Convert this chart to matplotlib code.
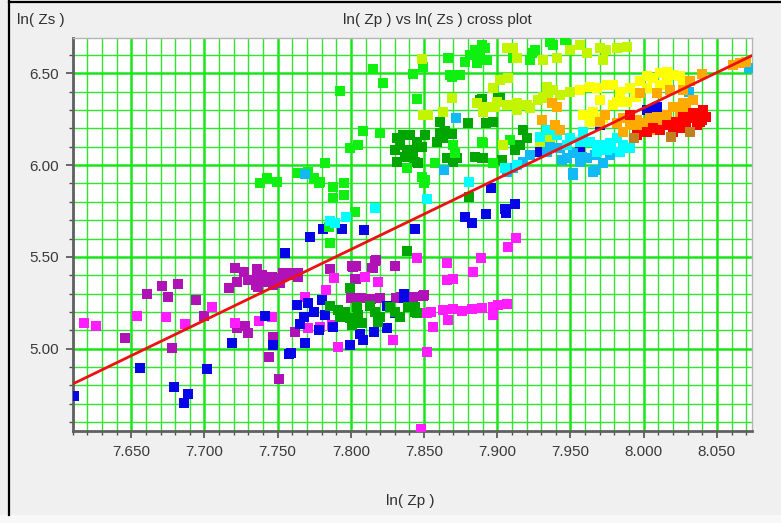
import matplotlib
matplotlib.use("Agg")
import matplotlib.pyplot as plt
from matplotlib.ticker import MultipleLocator, FormatStrFormatter
from matplotlib.lines import Line2D
from matplotlib.patches import Rectangle

plt.rcParams["font.family"] = ["Liberation Sans", "DejaVu Sans"]

# scatter points, one pair of lists per colour class
blue_x = [7.611, 7.656, 7.679, 7.689, 7.686, 7.702, 7.719, 7.741, 7.747, 7.755, 7.758,
          7.772, 7.781, 7.794, 7.809, 7.844, 7.878, 7.883, 7.892, 7.905, 7.906, 7.912,
          7.896, 7.763, 7.771, 7.780, 7.7745, 7.7677, 7.7654, 7.7824, 7.788, 7.769,
          7.7592, 7.7995, 7.8063, 7.8086, 7.8159, 7.8245, 7.8245, 7.8302, 7.7785,
          7.836, 7.836, 8.002, 8.0088, 7.970, 7.929, 7.9565]
blue_y = [4.742, 4.897, 4.793, 4.752, 4.706, 4.889, 5.033, 5.178, 5.020, 5.523, 4.971,
          5.607, 5.652, 5.652, 5.646, 5.652, 5.719, 5.686, 5.732, 5.759, 5.737, 5.786,
          5.874, 5.238, 5.247, 5.265, 5.200, 5.174, 5.135, 5.183, 5.120, 5.033,
          4.975, 5.020, 5.080, 5.047, 5.093, 5.111, 5.233, 5.193, 5.102,
          5.300, 5.275, 6.300, 6.318, 6.218, 6.073, 6.073]

magenta_x = [7.618, 7.626, 7.654, 7.674, 7.687, 7.705, 7.721, 7.737, 7.746, 7.769,
             7.7886, 7.783, 7.8188, 7.8097, 7.8454, 7.889, 7.8655, 7.8837, 7.8655, 7.870,
             7.9075, 7.9126, 7.852, 7.855, 7.863, 7.870, 7.8757, 7.8825, 7.8894, 7.8973,
             7.9007, 7.9065, 7.8666, 7.8564, 7.8973, 7.829, 7.852, 7.7915, 7.771, 7.779,
             7.787, 7.8478]
magenta_y = [5.142, 5.125, 5.178, 5.171, 5.133, 5.229, 5.142, 5.151, 5.171, 5.283,
             5.387, 5.320, 5.365, 5.392, 5.492, 5.492, 5.465, 5.419, 5.374, 5.380,
             5.556, 5.601, 5.193, 5.200, 5.210, 5.215, 5.205, 5.215, 5.223, 5.229,
             5.238, 5.243, 5.156, 5.120, 5.183, 5.047, 4.984, 5.011, 5.111, 5.120,
             5.129, 4.561]

purple_x = [7.646, 7.661, 7.671, 7.675, 7.682, 7.678, 7.694, 7.700, 7.717, 7.721,
            7.722, 7.727, 7.730, 7.736, 7.735, 7.722, 7.728, 7.730, 7.747, 7.744, 7.751,
            7.7358, 7.7392, 7.7426, 7.746, 7.7495, 7.754, 7.7585, 7.7642, 7.7369, 7.7471,
            7.7517, 7.7538, 7.7586, 7.764,
            7.7855, 7.8006, 7.8036, 7.8036, 7.8097, 7.8154, 7.8172, 7.830, 7.8166, 7.8143,
            7.8029, 7.8017, 7.850, 7.8427, 7.762,
            7.800, 7.807, 7.8135, 7.820, 7.8305, 7.8345, 7.841, 7.8496]
purple_y = [5.057, 5.300, 5.343, 5.280, 5.350, 5.005, 5.265, 5.180, 5.332, 5.440,
            5.365, 5.416, 5.374, 5.432, 5.347, 5.111, 5.124, 5.087, 5.065, 4.956, 4.837,
            5.383, 5.401, 5.365, 5.392, 5.383, 5.401, 5.401, 5.410, 5.338, 5.347,
            5.356, 5.410, 5.410, 5.392,
            5.432, 5.450, 5.450, 5.380, 5.390, 5.440, 5.483, 5.450, 5.478, 5.438,
            5.378, 5.447, 5.292, 5.283, 5.093,
            5.275, 5.275, 5.270, 5.278, 5.275, 5.280, 5.272, 5.285]

dkgreen_x = [7.7995, 7.838, 7.881,
             7.7858, 7.7915, 7.796, 7.7995, 7.804, 7.8052, 7.8075, 7.8131, 7.8166, 7.820,
             7.8268, 7.8302, 7.8336, 7.8393, 7.8439, 7.8006, 7.8188, 7.7926, 7.845, 7.844,
             7.8313, 7.8359, 7.8404, 7.845, 7.8507, 7.830, 7.8336, 7.8382, 7.8427, 7.8484,
             7.8313, 7.837, 7.8439, 7.8461, 7.861, 7.8643, 7.8689, 7.8586, 7.8632, 7.8655,
             7.8723, 7.870, 7.8848, 7.8905, 7.8609, 7.8802, 7.8894, 7.9007, 7.9178, 7.9201,
             7.9155, 7.9121, 7.903, 7.8973, 7.902, 7.8883, 7.8894, 7.8925]
dkgreen_y = [5.329, 5.532, 5.825,
             5.233, 5.211, 5.200, 5.166, 5.229, 5.183, 5.138, 5.233, 5.200, 5.174,
             5.229, 5.200, 5.174, 5.229, 5.200, 5.129, 5.147, 5.174, 5.193, 5.229,
             6.146, 6.164, 6.164, 6.127, 6.164, 6.082, 6.109, 6.082, 6.073, 6.100,
             6.018, 6.046, 6.018, 6.010, 6.177, 6.186, 6.168, 6.127, 6.146, 6.037,
             6.037, 6.018, 6.046, 6.037, 6.236, 6.227, 6.360, 6.364, 6.191, 6.146,
             6.109, 6.082, 6.028, 6.236, 6.364, 6.355, 6.037, 6.227]

green_x = [7.7785, 7.788, 7.795, 7.795, 7.788, 7.803, 7.850, 7.786, 7.785, 7.7927,
           7.8154, 7.8222, 7.8427, 7.8495, 7.8666, 7.869, 7.8746, 7.845, 7.8086, 7.820,
           7.870, 7.871, 7.8894, 7.8973, 7.8575, 7.8507, 7.8382, 7.8052, 7.7995, 7.7824,
           7.7642, 7.771, 7.7745, 7.779, 7.738, 7.7426, 7.7495, 7.8484,
           7.878, 7.8814, 7.8848, 7.8882, 7.8916, 7.8928, 7.886, 7.8894, 7.911, 7.9235,
           7.9257, 7.9223, 7.936, 7.9383, 7.9463, 7.9087, 7.8905, 7.8677]
green_y = [5.904, 5.880, 5.900, 5.835, 5.820, 5.746, 5.904, 5.574, 5.664, 6.404,
           6.522, 6.449, 6.494, 6.536, 6.582, 6.480, 6.490, 6.360, 6.187, 6.172,
           6.109, 6.064, 6.127, 6.010, 6.013, 5.919, 5.983, 6.109, 6.091, 6.010,
           5.955, 5.964, 5.928, 5.910, 5.900, 5.928, 5.910, 5.937,
           6.563, 6.600, 6.627, 6.590, 6.636, 6.573, 6.555, 6.654, 6.580, 6.609,
           6.627, 6.573, 6.672, 6.654, 6.680, 6.136, 6.118, 6.490]

cyan_x = [7.8166, 7.852, 7.881, 7.786, 7.789, 7.797, 7.9633, 7.970, 7.977, 7.9815,
          7.9861, 7.9747, 7.9679, 7.9838, 7.9565, 7.9497, 7.9588, 7.9406, 7.9906, 7.9338,
          7.929, 7.9053, 7.9133, 7.9475, 7.978]
cyan_y = [5.768, 5.815, 5.910, 5.697, 5.683, 5.719, 6.127, 6.109, 6.118, 6.146,
          6.109, 6.082, 6.073, 6.073, 6.127, 6.146, 6.182, 6.164, 6.091, 6.191,
          6.155, 5.983, 6.000, 6.110, 6.095]

sky_x = [7.7688, 7.872, 7.8636, 8.072, 8.031, 7.9474, 7.952, 7.9565, 7.961, 7.9667,
         7.9724, 7.977, 7.952, 7.9667, 7.9428, 7.936, 7.9338, 7.911, 7.9178, 7.9223,
         7.9065, 7.952, 7.9656, 7.958, 7.944]
sky_y = [5.950, 6.258, 5.973, 6.527, 6.397, 6.037, 6.064, 6.018, 6.037, 6.055,
         6.010, 6.055, 5.955, 5.973, 6.091, 6.100, 6.073, 5.983, 6.018, 6.055,
         5.964, 5.946, 5.964, 6.045, 6.030]

ygreen_x = [7.8484, 7.869, 7.8495, 7.853, 7.863, 7.886, 7.8905, 7.8973, 7.8985, 7.9065,
            7.911, 7.9133, 7.9315, 7.9406, 7.950, 7.9565, 7.961, 7.970, 7.9746, 7.9815,
            7.9883, 7.9723, 7.902, 7.9075, 7.9338, 7.9383, 7.9315,
            7.8928, 7.8997, 7.9065, 7.9133, 7.9201, 7.928, 7.9349, 7.9428, 7.9497,
            7.9133, 7.9223, 7.8905, 7.9042, 7.936, 7.929]
ygreen_y = [6.578, 6.364, 6.273, 6.273, 6.291, 6.337, 6.318, 6.418, 6.318, 6.636,
            6.636, 6.582, 6.573, 6.582, 6.627, 6.654, 6.609, 6.636, 6.627, 6.636,
            6.645, 6.573, 6.464, 6.473, 6.427, 6.409, 6.373,
            6.318, 6.345, 6.327, 6.336, 6.327, 6.355, 6.364, 6.382, 6.400,
            6.300, 6.309, 6.291, 6.109, 6.146, 6.127]

yellow_x = [7.9838, 7.9906, 7.9974, 8.002, 8.0065, 8.011, 8.0156, 8.0201, 8.0247, 8.027,
            8.011, 7.995, 7.9883, 8.002, 8.0156, 7.9588, 7.9656, 7.9724, 7.9633, 7.9792,
            7.970, 7.9815, 7.9565, 7.9633, 7.9679, 7.9747, 7.9792]
yellow_y = [6.400, 6.418, 6.455, 6.482, 6.473, 6.500, 6.509, 6.491, 6.482, 6.455,
            6.436, 6.373, 6.345, 6.418, 6.455, 6.273, 6.291, 6.255, 6.236, 6.327,
            6.355, 6.345, 6.409, 6.427, 6.418, 6.436, 6.436]

orange_x = [7.9372, 7.9406, 7.9303, 7.9394, 7.9428, 7.970, 7.9735,
            7.9815, 7.9861, 7.9906, 7.9951, 7.9997, 8.0042, 8.0088, 8.011, 8.0156, 7.9861,
            7.9951, 8.002, 8.0065, 8.0156, 8.0247, 8.0224, 8.0292, 7.9974,
            8.0316, 8.0395, 7.9974, 8.0088, 8.0179, 8.027, 8.0338, 8.027, 8.0201,
            8.0612, 8.0657, 8.0702]
orange_y = [6.336, 6.318, 6.246, 6.218, 6.191, 6.236, 6.273,
            6.228, 6.255, 6.218, 6.246, 6.228, 6.255, 6.264, 6.218, 6.236, 6.182,
            6.173, 6.182, 6.191, 6.273, 6.291, 6.227, 6.300, 6.218,
            6.455, 6.495, 6.391, 6.391, 6.409, 6.409, 6.355, 6.336, 6.318,
            6.545, 6.554, 6.562]

red_x = [7.9906, 7.9951, 8.002, 8.0065, 8.011, 8.0156, 8.0201, 8.0224, 8.0247, 8.027,
         8.0292, 8.0315, 8.0338, 8.0361, 8.0383, 8.0406, 8.0429, 8.0395]
red_y = [6.273, 6.164, 6.182, 6.200, 6.191, 6.218, 6.182, 6.236, 6.200, 6.264,
         6.209, 6.255, 6.282, 6.218, 6.236, 6.300, 6.264, 6.246]

brown_x = [7.9935, 8.0188, 8.0313]
brown_y = [6.146, 6.155, 6.182]

# regression line end points
fit_x = [7.610, 8.074]
fit_y = [4.808, 6.596]

groups = [
    (purple_x, purple_y, "#b012b8"),
    (magenta_x, magenta_y, "#ff1cff"),
    (blue_x, blue_y, "#0505e8"),
    (dkgreen_x, dkgreen_y, "#00a600"),
    (green_x, green_y, "#10f010"),
    (ygreen_x, ygreen_y, "#c4f500"),
    (yellow_x, yellow_y, "#ffff00"),
    (sky_x, sky_y, "#12baf5"),
    (cyan_x, cyan_y, "#00ffff"),
    (orange_x, orange_y, "#ffaa00"),
    (red_x, red_y, "#ff0000"),
    (brown_x, brown_y, "#c0801e"),
]

fig = plt.figure(figsize=(7.81, 5.23), dpi=100, facecolor="#f0f0f0")

# lighter strip along the bottom of the window
fig.add_artist(Rectangle((0, 0), 1, 0.015, transform=fig.transFigure,
                         facecolor="#f8f8f8", edgecolor="none"))

ax = fig.add_axes([0.0931, 0.1759, 0.8698, 0.7509])
ax.set_facecolor("white")

for gx, gy, col in groups:
    ax.scatter(gx, gy, marker="s", s=44, c=col, linewidths=0, zorder=3)

ax.plot(fit_x, fit_y, color="#ee1111", lw=2.0, zorder=4)

ax.set_xlim(7.610, 8.074)
ax.set_ylim(4.552, 6.69)

ax.xaxis.set_major_locator(MultipleLocator(0.05))
ax.xaxis.set_minor_locator(MultipleLocator(0.01))
ax.yaxis.set_major_locator(MultipleLocator(0.5))
ax.yaxis.set_minor_locator(MultipleLocator(0.1))
ax.xaxis.set_major_formatter(FormatStrFormatter("%.3f"))
ax.yaxis.set_major_formatter(FormatStrFormatter("%.2f"))

ax.grid(which="major", color="#19e619", lw=1.8, zorder=1)
ax.grid(which="minor", color="#2ee62e", lw=1.0, zorder=1)
ax.set_axisbelow(True)

ax.tick_params(which="major", length=5, width=1.2, color="#505050",
               labelsize=11, labelcolor="#3a3a3a", pad=5)
ax.tick_params(which="minor", length=3, width=1.0, color="#505050")

for side in ["left", "bottom"]:
    ax.spines[side].set_color("#606060")
    ax.spines[side].set_linewidth(2.0)
for side in ["top", "right"]:
    ax.spines[side].set_color("#b4b4b4")
    ax.spines[side].set_linewidth(1.0)

fig.text(0.56, 0.962, "ln( Zp ) vs ln( Zs ) cross plot", ha="center", va="center",
         fontsize=11, color="#303030")
fig.text(0.022, 0.962, "ln( Zs )", ha="left", va="center", fontsize=11, color="#303030")
fig.text(0.525, 0.043, "ln( Zp )", ha="center", va="center", fontsize=11, color="#303030")

# window frame
fig.add_artist(Line2D([0.0115, 0.0115], [0.015, 1.0], color="black", lw=1.6))
fig.add_artist(Line2D([0.0115, 1.0], [0.997, 0.997], color="black", lw=1.6))

fig.savefig("out.png", dpi=100, facecolor=fig.get_facecolor())
